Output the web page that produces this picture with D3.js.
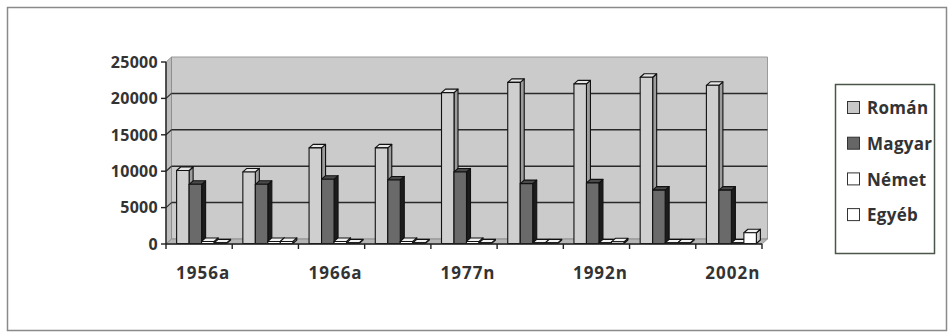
<!DOCTYPE html>
<html>
<head>
<meta charset="utf-8">
<script src="https://cdn.jsdelivr.net/npm/d3@7/dist/d3.min.js"></script>
<style>
  html, body { margin: 0; padding: 0; background: #fff; }
  svg { display: block; }
  text { font-family: "Open Sans", "Liberation Sans", sans-serif; font-weight: 700; fill: #333; }
</style>
</head>
<body>
<svg id="chart" width="948" height="333"></svg>
<script>
// Census years (a = anyanyelv, n = nemzetiség)
const categories = ["1956a", "1956n", "1966a", "1966n", "1977n", "1992a", "1992n", "2002a", "2002n"];
const seriesNames = ["Román", "Magyar", "Német", "Egyéb"];
const roman  = [10100,  9900, 13200, 13200, 20800, 22200, 22000, 22900, 21800];
const magyar = [ 8200,  8200,  8900,  8800,  9900,  8300,  8400,  7400,  7400];
const nemet  = [  350,   350,   350,   350,   350,    60,    60,    60,    80];
const egyeb  = [  120,   350,   100,   100,   100,    40,   300,    40,  1550];
const yTicks = [0, 5000, 10000, 15000, 20000, 25000];
const shownLabels = ["1956a", "1966a", "1977n", "1992n", "2002n"];

const seriesValues = [roman, magyar, nemet, egyeb];
const palette = {
  "Román":  { front: "#cfcfcf", top: "#e6e6e6", side: "#9c9c9c", swatch: "#c8c8c8" },
  "Magyar": { front: "#6a6a6a", top: "#4a4a4a", side: "#1c1c1c", swatch: "#666666" },
  "Német":  { front: "#ffffff", top: "#f2f2f2", side: "#c8c8c8", swatch: "#ffffff" },
  "Egyéb":  { front: "#ffffff", top: "#f2f2f2", side: "#c8c8c8", swatch: "#ffffff" }
};

const svg = d3.select("#chart");

// outer chart frame
svg.append("rect")
  .attr("x", 7.5).attr("y", 7.5).attr("width", 939).attr("height", 323)
  .attr("fill", "#fff").attr("stroke", "#8a8a8a").attr("stroke-width", 1.5);

const left = 166, right = 762, base = 244, topY = 62;
const DX = 5.5, DY = -5;          // depth of the plot box
const BDX = 4, BDY = -3.5;        // depth of each column

const y = d3.scaleLinear().domain([0, 25000]).range([base, topY]);
const x0 = d3.scaleBand().domain(categories).range([left, right]).paddingInner(0).paddingOuter(0);
const x1 = d3.scaleBand().domain(seriesNames).range([0, x0.bandwidth()]).paddingInner(0).paddingOuter(0.65);

const g = svg.append("g");

// back wall, side wall and floor
g.append("polygon")
  .attr("points", [[left + DX, y(25000) + DY], [right + DX, y(25000) + DY], [right + DX, base + DY], [left + DX, base + DY]].join(" "))
  .attr("fill", "#cbcbcb").attr("stroke", "#9a9a9a").attr("stroke-width", 1);
g.append("polygon")
  .attr("points", [[left, base], [left, y(25000)], [left + DX, y(25000) + DY], [left + DX, base + DY]].join(" "))
  .attr("fill", "#bdbdbd").attr("stroke", "#888").attr("stroke-width", 0.8);
g.append("polygon")
  .attr("points", [[left, base], [right, base], [right + DX, base + DY], [left + DX, base + DY]].join(" "))
  .attr("fill", "#b5b5b5").attr("stroke", "#888").attr("stroke-width", 0.8);

// gridlines on the wall
yTicks.filter(v => v > 0 && v < 25000).forEach(v => {
  g.append("line")
    .attr("x1", left + DX).attr("x2", right + DX)
    .attr("y1", y(v) + DY).attr("y2", y(v) + DY)
    .attr("stroke", "#2a2a2a").attr("stroke-width", 1.5);
  g.append("line")
    .attr("x1", left).attr("x2", left + DX)
    .attr("y1", y(v)).attr("y2", y(v) + DY)
    .attr("stroke", "#2a2a2a").attr("stroke-width", 1.2);
});

// columns
const bars = g.append("g");
categories.forEach((c, i) => {
  seriesNames.forEach((s, k) => {
    const v = seriesValues[k][i];
    const col = palette[s];
    const w = x1.bandwidth();
    const xl = x0(c) + x1(s) + 2.5;
    const yb = base - 0.5;
    const yt = Math.min(y(v), yb - 0.6);
    const cg = bars.append("g").attr("stroke", "#111").attr("stroke-width", 1.1).attr("stroke-linejoin", "round");
    cg.append("polygon")
      .attr("points", [[xl + w, yb], [xl + w, yt], [xl + w + BDX, yt + BDY], [xl + w + BDX, yb + BDY]].join(" "))
      .attr("fill", col.side);
    cg.append("polygon")
      .attr("points", [[xl, yt], [xl + w, yt], [xl + w + BDX, yt + BDY], [xl + BDX, yt + BDY]].join(" "))
      .attr("fill", col.top);
    cg.append("rect")
      .attr("x", xl).attr("y", yt).attr("width", w).attr("height", yb - yt)
      .attr("fill", col.front);
  });
});

// value axis
const yAxis = svg.append("g");
yAxis.append("line").attr("x1", left).attr("x2", left).attr("y1", y(25000)).attr("y2", base)
  .attr("stroke", "#222").attr("stroke-width", 1.4);
yTicks.forEach(v => {
  yAxis.append("line").attr("x1", left - 5).attr("x2", left).attr("y1", y(v)).attr("y2", y(v))
    .attr("stroke", "#222").attr("stroke-width", 1.4);
  yAxis.append("text").attr("x", left - 8).attr("y", y(v)).attr("dy", "0.36em")
    .attr("text-anchor", "end").attr("font-size", 16).attr("letter-spacing", 0.3).text(v);
});

// category axis
const xAxis = svg.append("g");
xAxis.append("line").attr("x1", left).attr("x2", right).attr("y1", base).attr("y2", base)
  .attr("stroke", "#222").attr("stroke-width", 1.4);
categories.forEach((c, i) => {
  xAxis.append("line").attr("x1", x0(c)).attr("x2", x0(c)).attr("y1", base).attr("y2", base + 5)
    .attr("stroke", "#222").attr("stroke-width", 1.4);
});
xAxis.append("line").attr("x1", right).attr("x2", right).attr("y1", base).attr("y2", base + 5)
  .attr("stroke", "#222").attr("stroke-width", 1.4);
categories.forEach(c => {
  if (shownLabels.includes(c)) {
    xAxis.append("text").attr("x", x0(c) + x0.bandwidth() / 2 + 4).attr("y", 279)
      .attr("text-anchor", "middle").attr("font-size", 17).attr("letter-spacing", 1).text(c);
  }
});

// legend
const legend = svg.append("g");
legend.append("rect").attr("x", 835.5).attr("y", 84.5).attr("width", 99).attr("height", 169)
  .attr("fill", "#fff").attr("stroke", "#4a564a").attr("stroke-width", 1.5);
seriesNames.forEach((s, k) => {
  const cy = 108 + k * 35.7;
  legend.append("rect").attr("x", 847.5).attr("y", cy - 6.5).attr("width", 12).attr("height", 12)
    .attr("fill", palette[s].swatch).attr("stroke", "#333").attr("stroke-width", 1);
  legend.append("text").attr("x", 867).attr("y", cy).attr("dy", "0.36em")
    .attr("font-size", 17).attr("letter-spacing", 0.3).text(s);
});
</script>
</body>
</html>
